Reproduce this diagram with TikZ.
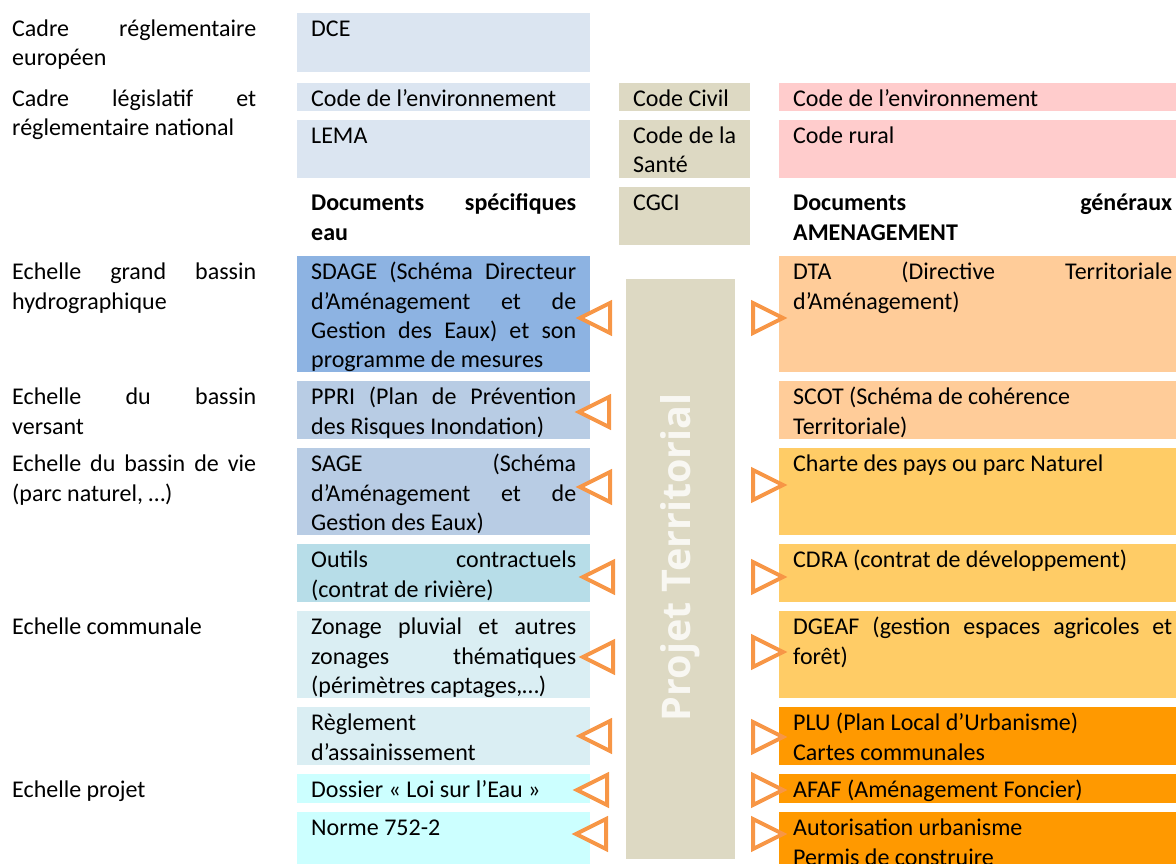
\documentclass[tikz,border=0pt]{standalone}
\usepackage{fontspec}
\setmainfont{Carlito}
\newfontfamily\projfont{Open Sans}
\usepackage{xcolor}
\definecolor{eulight}{HTML}{DBE5F1}
\definecolor{sdageblue}{HTML}{8DB3E2}
\definecolor{midblue}{HTML}{B8CCE4}
\definecolor{tealblue}{HTML}{B7DDE8}
\definecolor{paleblue}{HTML}{DAEEF3}
\definecolor{cyanpale}{HTML}{CCFFFF}
\definecolor{graybox}{HTML}{DDD9C3}
\definecolor{pinkbox}{HTML}{FFCCCC}
\definecolor{peach}{HTML}{FFCC99}
\definecolor{goldbox}{HTML}{FFCC66}
\definecolor{orangebox}{HTML}{FF9900}
\definecolor{triorange}{HTML}{F79646}
\tolerance=10000
\hbadness=10000

\tikzset{
  cell/.style={anchor=north west, inner xsep=14pt, inner ysep=0pt, text height=23.5pt,
    align=justify, font=\fontsize{24}{29.3}\selectfont},
  headcell/.style={font=\fontsize{24}{29.3}\selectfont\bfseries},
  leftcell/.style={cell, text width=265pt},
  midcell/.style={cell, text width=103pt},
  rightcell/.style={cell, text width=379pt},
  rowlabel/.style={cell, inner xsep=0pt, text width=244pt},
  tri/.style={draw=triorange, line width=4pt, fill=white},
}

\begin{document}
\begin{tikzpicture}[x=1pt,y=-1pt]
\useasboundingbox (0,0) rectangle (1176,864);

% scale labels
\node[rowlabel] (europe) at (12,13) {Cadre réglementaire\linebreak européen};
\node[rowlabel] (national) at (12,83) {Cadre législatif et\linebreak réglementaire national};
\node[rowlabel] (grandbassin) at (12,256) {Echelle grand bassin\linebreak hydrographique};
\node[rowlabel] (versant) at (12,381) {Echelle du bassin\linebreak versant};
\node[rowlabel] (bassinvie) at (12,448) {Echelle du bassin de vie\linebreak (parc naturel, …)};
\node[rowlabel] (communale) at (12,611) {Echelle communale};
\node[rowlabel] (projetrow) at (12,774) {Echelle projet};

% documents eau
\node[leftcell, fill=eulight, text depth=35.5pt] (dce) at (297,13) {DCE};
\node[leftcell, fill=eulight, text depth=4.5pt] (envleft) at (297,83) {Code de l’environnement};
\node[leftcell, fill=eulight, text depth=34.5pt] (lema) at (297,120) {LEMA};
\node[leftcell, headcell] (speceau) at (297,187) {Documents spécifiques\linebreak eau};
\node[leftcell, fill=sdageblue, text depth=92.5pt] (sdage) at (297,256) {SDAGE (Schéma Directeur\linebreak d’Aménagement et de\linebreak Gestion des Eaux) et son\linebreak programme de mesures};
\node[leftcell, fill=midblue, text depth=34.5pt] (ppri) at (297,381) {PPRI (Plan de Prévention\linebreak des Risques Inondation)};
\node[leftcell, fill=midblue, text depth=63.5pt] (sage) at (297,448) {SAGE (Schéma\linebreak d’Aménagement et de\linebreak Gestion des Eaux)};
\node[leftcell, fill=tealblue, text depth=34.5pt] (outils) at (297,544) {Outils contractuels\linebreak (contrat de rivière)};
\node[leftcell, fill=paleblue, text depth=63.5pt] (zonage) at (297,611) {Zonage pluvial et autres\linebreak zonages thématiques\linebreak (périmètres captages,…)};
\node[leftcell, fill=paleblue, text depth=34.5pt] (reglt) at (297,707) {Règlement\\ d’assainissement};
\node[leftcell, fill=cyanpale, text depth=5.5pt] (dossier) at (297,774) {Dossier «~Loi sur l’Eau~»};
\node[leftcell, fill=cyanpale, text depth=40pt] (norme) at (297,812) {Norme 752-2};

% codes
\node[midcell, fill=graybox, text depth=4.5pt] (civil) at (619,83) {Code Civil};
\node[midcell, fill=graybox, text depth=34.5pt] (sante) at (619,120) {Code de la\linebreak Santé};
\node[midcell, fill=graybox, text depth=34.5pt] (cgci) at (619,187) {CGCI};

% projet territorial
\node[fill=graybox, anchor=north west, inner sep=0pt, minimum width=109pt, minimum height=580pt] (projet) at (626,279) {};
\node[rotate=90, text=white!78!graybox, font=\projfont\bfseries\fontsize{39.5}{41}\selectfont] (projlabel) at ([yshift=12pt]projet.center) {Projet Territorial};

% documents amenagement
\node[rightcell, fill=pinkbox, text depth=4.5pt] (envright) at (779,83) {Code de l’environnement};
\node[rightcell, fill=pinkbox, text depth=34.5pt] (rural) at (779,120) {Code rural};
\node[rightcell, headcell] (genamen) at (779,187) {Documents généraux\linebreak AMENAGEMENT};
\node[rightcell, fill=peach, text depth=92.5pt] (dta) at (779,256) {DTA (Directive Territoriale\linebreak d’Aménagement)};
\node[rightcell, fill=peach, text depth=34.5pt] (scot) at (779,381) {SCOT (Schéma de cohérence\\ Territoriale)};
\node[rightcell, fill=goldbox, text depth=63.5pt] (charte) at (779,448) {Charte des pays ou parc Naturel};
\node[rightcell, fill=goldbox, text depth=34.5pt] (cdra) at (779,544) {CDRA (contrat de développement)};
\node[rightcell, fill=goldbox, text depth=63.5pt] (dgeaf) at (779,611) {DGEAF (gestion espaces agricoles et\linebreak forêt)};
\node[rightcell, fill=orangebox, text depth=34.5pt] (plu) at (779,707) {PLU (Plan Local d’Urbanisme)\\ Cartes communales};
\node[rightcell, fill=orangebox, text depth=5.5pt] (afaf) at (779,774) {AFAF (Aménagement Foncier)};
\node[rightcell, fill=orangebox, text depth=40pt] (autor) at (779,812) {Autorisation urbanisme\\ Permis de construire};

% triangles
\foreach \x/\y in {580/318, 579/412, 580/487, 583/577, 583/657, 580/736, 577/790, 576/834}
  \draw[tri] (\x,\y) -- (\x+30,\y-15) -- (\x+30,\y+15) -- cycle;
\foreach \y in {318,485,577,652,737,790,834}
  \draw[tri] (753,\y-15) -- (783,\y) -- (753,\y+15) -- cycle;
\end{tikzpicture}
\end{document}
